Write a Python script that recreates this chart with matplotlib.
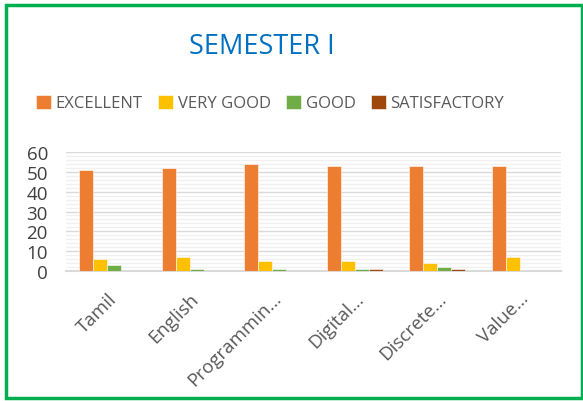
import numpy as np
import matplotlib.pyplot as plt
from matplotlib.patches import Rectangle
from matplotlib.ticker import MultipleLocator

subjects = ["Tamil", "English", "Programmin\u2026", "Digital\u2026", "Discrete\u2026", "Value\u2026"]
series = ["EXCELLENT", "VERY GOOD", "GOOD", "SATISFACTORY"]
excellent = [51, 52, 54, 53, 53, 53]
very_good = [6, 7, 5, 5, 4, 7]
good = [3, 1, 1, 1, 2, 0]
satisfactory = [0, 0, 0, 1, 1, 0]
colors = ["#ED7D31", "#FFC000", "#70AD47", "#9E480E"]

plt.rcParams['font.family'] = ['Open Sans', 'DejaVu Sans']

fig = plt.figure(figsize=(5.83, 4.02), dpi=100)
ax = fig.add_axes([66/583, 1-272/402, 495/583, 119/402])

x = np.arange(len(subjects))
w = 0.17
for i, (vals, c) in enumerate(zip([excellent, very_good, good, satisfactory], colors)):
    ax.bar(x + (i - 1.5) * w, vals, w, color=c, label=series[i],
           edgecolor="white", linewidth=0.4, zorder=3)

ax.set_xlim(-0.5, len(subjects) - 0.5)
ax.set_ylim(0, 60)
ax.yaxis.set_major_locator(MultipleLocator(10))
ax.yaxis.set_minor_locator(MultipleLocator(2))
ax.grid(which="major", axis="y", color="#D9D9D9", linewidth=1.0, zorder=0)
ax.grid(which="minor", axis="y", color="#F0F0F0", linewidth=1.0, zorder=0)
for s in ["top", "right", "left"]:
    ax.spines[s].set_visible(False)
ax.spines["bottom"].set_color("#D9D9D9")
ax.spines["bottom"].set_linewidth(1.5)
ax.tick_params(axis="both", which="both", length=0)
ax.tick_params(axis="y", labelsize=13.5, labelcolor="#404040", pad=13)
ax.set_xticks(x)
ax.set_xticklabels(subjects, rotation=45, ha="right", rotation_mode="anchor",
                   fontsize=13.5, color="#595959")
ax.tick_params(axis="x", pad=13)

fig.text(262/583, 1-47/402, "SEMESTER I", ha="center", va="center",
         fontsize=19.5, color="#0070C0")
handles, labels = ax.get_legend_handles_labels()
fig.legend(handles, labels, loc="center", bbox_to_anchor=(270/583, 1-104/402),
           ncol=4, frameon=False, fontsize=12, labelcolor="#595959",
           handlelength=0.9, handleheight=0.9, handletextpad=0.3, columnspacing=0.9)

fig.patches.append(Rectangle((5.5/583, 3.5/402), 1 - 7/583, 1 - 9/402,
                             transform=fig.transFigure, fill=False,
                             edgecolor="#00B050", linewidth=2.5))

fig.savefig("out.png", dpi=100)
